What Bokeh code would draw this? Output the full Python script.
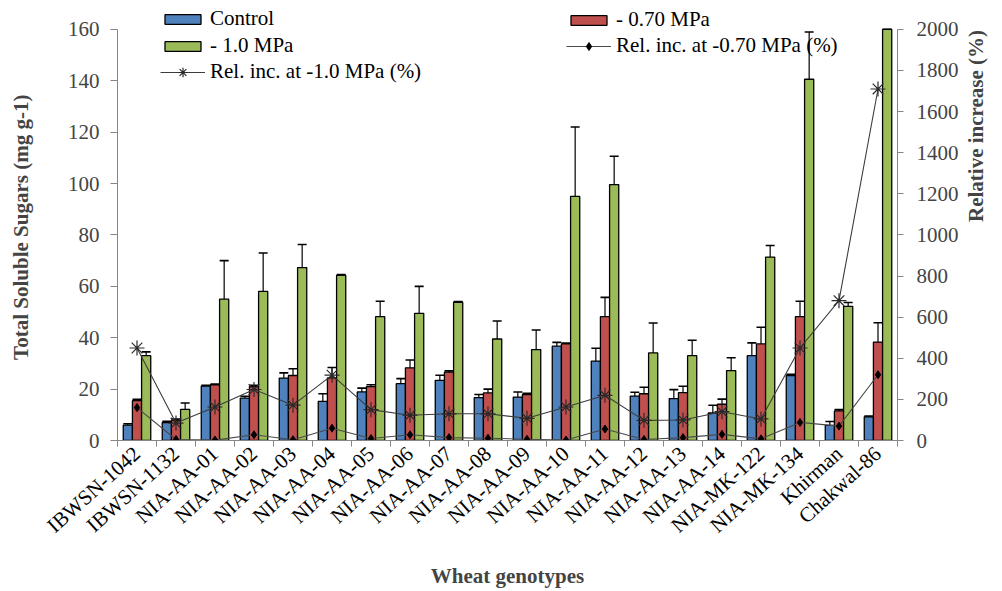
import math
from bokeh.plotting import figure
from bokeh.models import (Range1d, LinearAxis, FixedTicker, SingleIntervalTicker, Whisker, TeeHead,
                          ColumnDataSource, Legend, LegendItem)
from bokeh.embed import file_html
from bokeh.resources import INLINE

# ---------------- data ----------------
genotypes = ["IBWSN-1042", "IBWSN-1132", "NIA-AA-01", "NIA-AA-02", "NIA-AA-03", "NIA-AA-04",
             "NIA-AA-05", "NIA-AA-06", "NIA-AA-07", "NIA-AA-08", "NIA-AA-09", "NIA-AA-10",
             "NIA-AA-11", "NIA-AA-12", "NIA-AA-13", "NIA-AA-14", "NIA-MK-122", "NIA-MK-134",
             "Khirman", "Chakwal-86"]
control = [6.0, 7.0, 21.2, 16.5, 24.3, 15.2, 18.9, 22.1, 23.4, 16.7, 16.9, 36.7, 30.9, 17.3,
           16.3, 10.7, 33.0, 25.3, 5.9, 9.2]
control_err = [0.5, 0.5, 0.3, 0.7, 2.0, 3.0, 1.5, 2.0, 2.0, 1.2, 2.0, 1.5, 5.0, 1.5, 3.5, 3.0,
               5.0, 0.5, 1.5, 0.3]
mpa_070 = [15.5, 7.8, 21.7, 21.0, 25.3, 24.4, 21.0, 28.3, 26.6, 18.5, 17.9, 37.6, 48.2, 18.2,
           18.6, 14.1, 37.6, 48.2, 11.5, 38.3]
mpa_070_err = [0.5, 0.5, 0.3, 0.5, 2.6, 4.0, 0.7, 3.0, 0.5, 1.5, 0.5, 0.3, 7.5, 2.5, 2.5, 2.0,
               6.5, 6.0, 0.5, 7.5]
mpa_10 = [33.0, 12.1, 55.0, 58.0, 67.3, 64.3, 48.2, 49.5, 53.8, 39.5, 35.4, 95.0, 99.6, 34.1,
          33.0, 27.2, 71.4, 140.6, 52.2, 170.0]
mpa_10_err = [1.5, 2.5, 15.0, 15.0, 9.0, 0.3, 6.0, 10.5, 0.3, 7.0, 7.6, 27.0, 11.0, 11.6, 6.0,
              5.0, 4.5, 18.4, 1.5, 13.0]
rel_inc_070 = [160, 5, 2, 28, 4, 60, 10, 28, 14, 11, 6, 2, 56, 5, 14, 30, 8, 88, 70, 320]
rel_inc_10 = [450, 85, 163, 248, 172, 318, 150, 123, 130, 130, 108, 163, 220, 98, 100, 140,
              105, 450, 680, 1710]
left_ticks = [0, 20, 40, 60, 80, 100, 120, 140, 160]

# ---------------- layout ----------------
n = len(genotypes)
centers = [i + 0.5 for i in range(n)]
bounds = [float(i) for i in range(n + 1)]
YMAX, RMAX = 160, 2000
FONT = "Liberation Serif"
AX = "#868686"

FW, FH = 1002, 591
BL, BR, BT, BB = 117, 100, 3, 149
AXIS_TOP = 29                     # pixel row of the 160 / 2000 tick
frame_h = FH - BT - BB
plot_h = FH - BB - AXIS_TOP       # pixels spanned by 0..160
y_end = YMAX * frame_h / plot_h
r_end = RMAX * frame_h / plot_h

p = figure(width=FW, height=FH, output_backend="svg", toolbar_location=None,
           x_range=Range1d(0, n), y_range=Range1d(0, y_end),
           min_border_left=BL, min_border_right=BR, min_border_top=BT, min_border_bottom=BB)
p.outline_line_color = None
p.grid.visible = False
p.extra_y_ranges = {"rel": Range1d(0, r_end)}

# x axis
xa = p.xaxis[0]
xa.ticker = FixedTicker(ticks=centers, minor_ticks=bounds)
xa.major_label_overrides = {c: g for c, g in zip(centers, genotypes)}
xa.major_label_orientation = math.radians(42)
xa.major_tick_line_color = None
xa.major_tick_out = 4
xa.major_tick_in = 0
xa.minor_tick_out = 6
xa.minor_tick_in = 0
xa.minor_tick_line_color = AX
xa.axis_line_color = AX
xa.major_label_text_font = FONT
xa.major_label_text_font_size = "21px"
xa.major_label_text_color = "black"
xa.major_label_standoff = 4
xa.axis_label = "Wheat genotypes"
xa.axis_label_text_font = FONT
xa.axis_label_text_font_style = "bold"
xa.axis_label_text_font_size = "21px"
xa.axis_label_standoff = 15

# left axis
ya = p.yaxis[0]
ya.ticker = FixedTicker(ticks=left_ticks)
ya.bounds = (0, YMAX)
ya.minor_tick_line_color = None
ya.major_tick_out = 7
ya.major_tick_in = 0
ya.major_tick_line_color = AX
ya.axis_line_color = AX
ya.major_label_text_font = FONT
ya.major_label_text_font_size = "21px"
ya.major_label_standoff = 11
ya.axis_label = "Total  Soluble  Sugars (mg g-1)"
ya.axis_label_text_font = FONT
ya.axis_label_text_font_style = "bold"
ya.axis_label_text_font_size = "21px"
ya.axis_label_standoff = 32

# right axis
ra = LinearAxis(y_range_name="rel", ticker=SingleIntervalTicker(interval=200, num_minor_ticks=0))
ra.bounds = (0, RMAX)
ra.minor_tick_line_color = None
ra.major_tick_out = 6
ra.major_tick_in = 0
ra.major_tick_line_color = AX
ra.axis_line_color = AX
ra.major_label_text_font = FONT
ra.major_label_text_font_size = "21px"
ra.major_label_standoff = 13
ra.axis_label = "Relative  increase (%)"
ra.axis_label_text_font = FONT
ra.axis_label_text_font_style = "bold"
ra.axis_label_text_font_size = "21px"
ra.axis_label_standoff = 14
if "axis_label_orientation" in ra.properties():
    ra.axis_label_orientation = math.pi / 2
p.add_layout(ra, "right")

# ---------------- bars ----------------
W = 0.235
series = [
    ("Control", control, control_err, -W, "#4F81BD"),
    ("- 0.70 MPa", mpa_070, mpa_070_err, 0.0, "#C0504D"),
    ("- 1.0 MPa", mpa_10, mpa_10_err, W, "#9BBB59"),
]
bar_r = {}
for name, vals, errs, off, col in series:
    xs = [c + off for c in centers]
    src = ColumnDataSource(dict(x=xs, top=[min(v, YMAX) for v in vals]))
    bar_r[name] = p.vbar(x="x", top="top", width=W, source=src, fill_color=col,
                         line_color="black", line_width=1.3)
    esrc = ColumnDataSource(dict(base=xs,
                                 upper=[min(v + e, YMAX) for v, e in zip(vals, errs)],
                                 lower=[min(v - e, YMAX) for v, e in zip(vals, errs)]))
    p.add_layout(Whisker(source=esrc, base="base", upper="upper", lower="lower",
                         line_color="black", line_width=1.2,
                         upper_head=TeeHead(size=9, line_color="black", line_width=1.6),
                         lower_head=TeeHead(size=9, line_color="black", line_width=1.6)))

# ---------------- lines ----------------
l10 = p.line(centers, rel_inc_10, y_range_name="rel", line_color="#3c3c3c", line_width=1.1)
m10 = p.scatter(centers, rel_inc_10, y_range_name="rel", marker="asterisk", size=15,
                line_color="#2a2a2a", line_width=1.2)
l07 = p.line(centers, rel_inc_070, y_range_name="rel", line_color="#4a4a4a", line_width=1.1)
m07 = p.scatter(centers, rel_inc_070, y_range_name="rel", marker="diamond", size=8,
                fill_color="black", line_color="black")

# ---------------- legends ----------------
ROW, GAP = 24, 2
LEG_TOP = 10                          # page row of legend top
base_y = FH - BB                      # frame bottom pixel row


def leg_y(first_row, nrows):
    bottom = LEG_TOP + first_row * (ROW + GAP) + nrows * ROW + (nrows - 1) * GAP
    return base_y - bottom


def make_legend(items, x, first_row, gh):
    return Legend(items=items, location=(x, leg_y(first_row, len(items))),
                  border_line_color=None, background_fill_alpha=0, padding=0, margin=0,
                  spacing=GAP, glyph_width=45, glyph_height=gh, label_height=ROW,
                  label_standoff=5, label_text_font=FONT, label_text_font_size="21px",
                  label_text_color="black")


p.add_layout(make_legend([LegendItem(label="Control", renderers=[bar_r["Control"]]),
                          LegendItem(label="- 1.0 MPa", renderers=[bar_r["- 1.0 MPa"]])],
                         43, 0, 12))
p.add_layout(make_legend([LegendItem(label="Rel. inc. at -1.0 MPa (%)", renderers=[l10, m10])],
                         43, 2, 24))
p.add_layout(make_legend([LegendItem(label="- 0.70 MPa", renderers=[bar_r["- 0.70 MPa"]])],
                         449, 0, 12))
p.add_layout(make_legend([LegendItem(label="Rel. inc. at -0.70 MPa (%)", renderers=[l07, m07])],
                         449, 1, 20))

open("out.html", "w").write(file_html(p, INLINE))
